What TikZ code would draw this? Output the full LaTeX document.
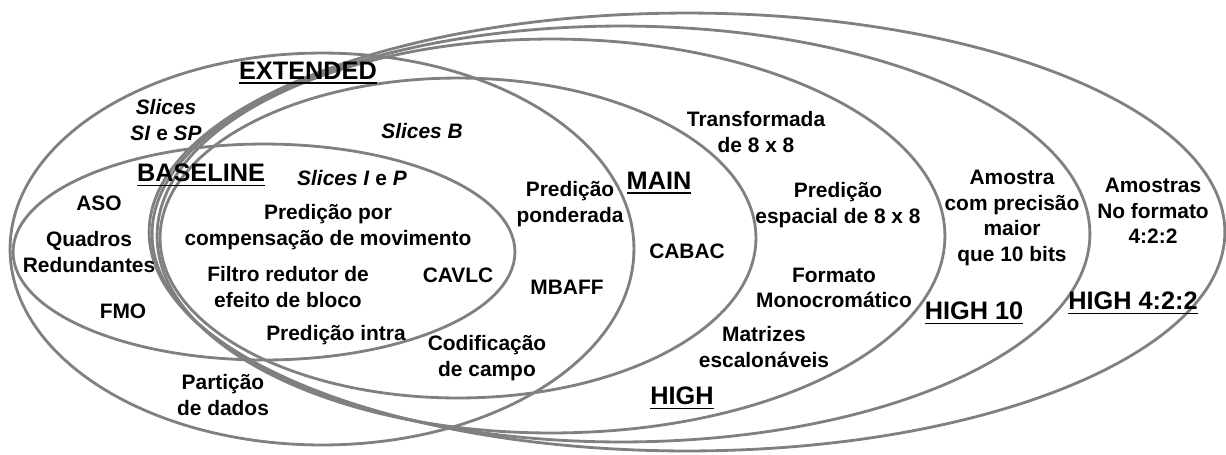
\documentclass[tikz,border=0pt]{standalone}
\usepackage{fontspec}
\setmainfont{Liberation Sans}
\definecolor{ringgray}{RGB}{128,128,128}
\newcommand{\myul}[1]{\setbox0=\hbox{#1}\rlap{\rule[-3pt]{\wd0}{1.1pt}}\box0}
\begin{document}
\begin{tikzpicture}[x=0.02cm,y=-0.02cm,
  ring/.style={draw=ringgray, line width=1.6pt},
  txt/.style={font=\fontsize{11.9}{14.5}\selectfont\bfseries, align=center, inner sep=0pt, text=black},
  lbl/.style={font=\fontsize{14.4}{17}\selectfont\bfseries, inner sep=0pt, text=black}]
\useasboundingbox (0,0) rectangle (1226,454);
\fill[white] (0,0) rectangle (1226,454);
% ellipses
\draw[ring] (322,249) ellipse [x radius=6.24cm, y radius=3.92cm];   % EXTENDED
\draw[ring] (264,252) ellipse [x radius=5.02cm, y radius=2.16cm];   % BASELINE
\draw[ring] (458,238) ellipse [x radius=5.96cm, y radius=3.20cm];   % MAIN
\draw[ring] (551,236) ellipse [x radius=7.88cm, y radius=3.94cm];   % HIGH
\draw[ring] (621,234) ellipse [x radius=9.38cm, y radius=4.16cm];   % HIGH 10
\draw[ring] (687,232) ellipse [x radius=10.76cm, y radius=4.38cm];  % HIGH 4:2:2
% labels
\node[lbl] (lext) at (308,73) {\myul{EXTENDED}};
\node[lbl] (lbase) at (201,175) {\myul{BASELINE}};
\node[lbl] (lmain) at (659,183) {\myul{MAIN}};
\node[lbl] (lhigh) at (682,398) {\myul{HIGH}};
\node[lbl] (lhten) at (974,313) {\myul{HIGH 10}};
\node[lbl] (lhfour) at (1133,303) {\myul{HIGH 4:2:2}};
% texts
\node[txt] (tsisp) at (166,120) {\textit{Slices}\\\textit{SI} e \textit{SP}};
\node[txt] (tslb) at (422,131) {\textit{Slices B}};
\node[txt] (tslip) at (352,178) {\textit{Slices I} e \textit{P}};
\node[txt] (taso) at (99,203) {ASO};
\node[txt] (tpcm) at (328,227) {Predição por\\compensação de movimento};
\node[txt] (tqr) at (89,252) {Quadros\\Redundantes};
\node[txt] (tpp) at (570,204) {Predição\\ponderada};
\node[txt] (tcabac) at (687,251) {CABAC};
\node[txt] (ttr) at (756,132) {Transformada\\de 8 x 8};
\node[txt] (tpe) at (838,205) {Predição\\espacial de 8 x 8};
\node[txt] (tfil) at (288,287) {Filtro redutor de\\efeito de bloco};
\node[txt] (tcavlc) at (458,275) {CAVLC};
\node[txt] (tmbaff) at (567,287) {MBAFF};
\node[txt] (tfmo) at (123,311) {FMO};
\node[txt] (tfm) at (834,288) {Formato\\Monocromático};
\node[txt] (tpi) at (336,335) {Predição intra};
\node[txt] (tcc) at (487,358) {Codificação\\de campo};
\node[txt] (tme) at (764,347) {Matrizes\\escalonáveis};
\node[txt] (tpd) at (223,395) {Partição\\de dados};
\node[txt] (tam) at (1012,218) {Amostra\\com precisão\\maior\\que 10 bits};
\node[txt] (tas) at (1153,211) {Amostras\\No formato\\4:2:2};
\end{tikzpicture}
\end{document}
